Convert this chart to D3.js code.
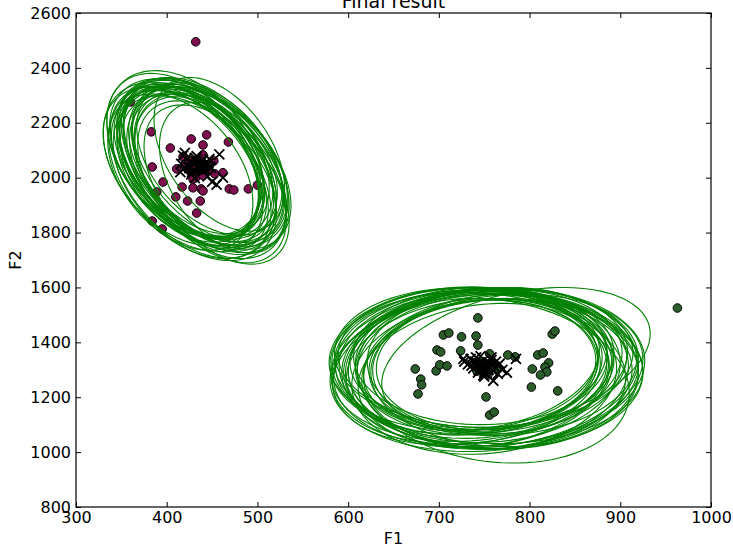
<!DOCTYPE html>
<html>
<head>
<meta charset="utf-8">
<script src="https://cdn.jsdelivr.net/npm/d3@7"></script>
<style>
  body { margin: 0; background: #fff; }
  svg { font-family: 'DejaVu Sans', sans-serif; }
</style>
</head>
<body>
<svg id="graph" width="733" height="548"></svg>
<script>
const GRAPH = d3.select('#graph');
const WIDTH = 733;
const HEIGHT = 548;
const MARGIN = { left: 76, right: 22, top: 13, bottom: 41 };

// DATA

const X_TICKS = [300, 400, 500, 600, 700, 800, 900, 1000];
const Y_TICKS = [800, 1000, 1200, 1400, 1600, 1800, 2000, 2200, 2400, 2600];

// cluster 1 samples (F1, F2)
const POINTS_1 = [
  [383, 2167], [427, 2141], [444, 2156], [440, 2119], [404, 2108], [468, 2130],
  [418, 2076], [440, 2083], [452, 2061], [384, 2039], [411, 2032], [462, 2018],
  [453, 2014], [396, 1984], [417, 1966], [429, 1963], [438, 1959], [440, 1952],
  [389, 1948], [469, 1959], [474, 1955], [490, 1959], [500, 1973], [410, 1930],
  [423, 1915], [437, 1915], [433, 1871], [432, 2495], [360, 2276], [384, 1842],
  [395, 1813], [425, 2030], [430, 2045], [435, 2020], [438, 2055], [428, 2010],
  [442, 2035], [432, 2000], [436, 2070], [445, 2025], [420, 2050], [427, 2060],
  [433, 2038], [440, 2008], [429, 1995]
];

// cluster 2 samples (F1, F2)
const POINTS_2 = [
  [743, 1489], [705, 1427], [711, 1434], [725, 1420], [741, 1423], [743, 1390],
  [756, 1358], [698, 1372], [702, 1365], [724, 1369], [674, 1303], [680, 1266],
  [681, 1245], [677, 1212], [697, 1296], [701, 1318], [709, 1314], [754, 1281],
  [752, 1201], [756, 1135], [761, 1146], [740, 1325], [803, 1303], [802, 1237],
  [809, 1354], [815, 1361], [821, 1325], [817, 1310], [819, 1292], [812, 1281],
  [825, 1430], [828, 1441], [831, 1223], [784, 1347], [776, 1354], [963, 1525],
  [745, 1310], [750, 1300], [755, 1320], [742, 1295], [760, 1315], [748, 1330],
  [752, 1290], [738, 1318], [765, 1305], [746, 1322]
];

// sampled gaussians: [meanF1, meanF2, extentF1, extentF2, correlation]
const GAUSS_1 = [
  [433, 2040, 88, 295, -0.42], [428, 2055, 80, 280, -0.38], [440, 2025, 92, 305, -0.45],
  [422, 2070, 85, 290, -0.40], [445, 2005, 86, 300, -0.44], [430, 2048, 74, 262, -0.36],
  [436, 2032, 84, 300, -0.48], [432, 2060, 90, 285, -0.40], [450, 1985, 82, 295, -0.46],
  [418, 2080, 84, 300, -0.42], [438, 2045, 80, 278, -0.45], [428, 2020, 92, 315, -0.40],
  [446, 2052, 84, 288, -0.47], [425, 2035, 76, 270, -0.36], [440, 2065, 88, 300, -0.43],
  [455, 1975, 80, 290, -0.48], [420, 2090, 86, 300, -0.38], [434, 2040, 70, 255, -0.34],
  [441, 2045, 94, 318, -0.46], [430, 2028, 82, 292, -0.50], [416, 2050, 86, 298, -0.38],
  [448, 2040, 86, 292, -0.42], [433, 2078, 80, 282, -0.40], [427, 2012, 88, 305, -0.45],
  [443, 2028, 78, 276, -0.40], [437, 2055, 92, 300, -0.44], [424, 2042, 86, 290, -0.46],
  [447, 2068, 80, 278, -0.42], [431, 1998, 90, 300, -0.43], [439, 2034, 94, 294, -0.36],
  [426, 2060, 76, 280, -0.48], [462, 2000, 70, 275, -0.42], [418, 2030, 88, 300, -0.44],
  [436, 2046, 72, 266, -0.38], [449, 2035, 88, 296, -0.46], [431, 2072, 86, 290, -0.42],
  [415, 2020, 80, 285, -0.40], [458, 2085, 72, 280, -0.45]
];

const GAUSS_2 = [
  [750, 1310, 150, 275, 0.05], [745, 1320, 135, 255, 0.10], [755, 1300, 165, 290, -0.05],
  [740, 1330, 145, 265, 0.15], [760, 1295, 160, 285, 0.00], [748, 1315, 125, 240, 0.08],
  [752, 1305, 168, 290, 0.12], [735, 1340, 150, 258, -0.08], [765, 1285, 148, 272, 0.06],
  [742, 1312, 160, 282, 0.18], [756, 1325, 135, 260, -0.02], [750, 1290, 170, 288, 0.10],
  [728, 1330, 148, 268, 0.04], [770, 1300, 155, 276, 0.14], [746, 1350, 140, 250, 0.00],
  [785, 1340, 148, 260, 0.35], [760, 1260, 150, 300, -0.15], [738, 1305, 155, 280, 0.20],
  [753, 1318, 122, 236, 0.06], [744, 1298, 162, 284, -0.10], [758, 1335, 150, 265, 0.12],
  [732, 1320, 146, 270, 0.02], [762, 1310, 165, 286, 0.08], [749, 1280, 138, 262, 0.16],
  [741, 1345, 152, 255, -0.04], [767, 1322, 140, 256, 0.10], [751, 1302, 158, 292, 0.04],
  [736, 1315, 155, 276, 0.12], [775, 1290, 150, 270, 0.00], [747, 1328, 130, 246, 0.18],
  [755, 1312, 170, 281, -0.06], [743, 1290, 145, 270, 0.09], [727, 1340, 148, 262, 0.05],
  [758, 1345, 156, 255, 0.07], [750, 1275, 146, 283, 0.11], [763, 1330, 155, 270, 0.03]
];

// SCALES

const x = d3.scaleLinear().domain([300, 1000]).range([MARGIN.left, WIDTH - MARGIN.right]);
const y = d3.scaleLinear().domain([800, 2600]).range([HEIGHT - MARGIN.bottom, MARGIN.top]);

const plot = GRAPH.append('g');

plot.append('clipPath').attr('id', 'clip')
  .append('rect')
  .attr('x', x(300)).attr('y', y(2600))
  .attr('width', x(1000) - x(300)).attr('height', y(800) - y(2600));

const inner = plot.append('g').attr('clip-path', 'url(#clip)');

// FUNCTIONS

function ellipsePath(g) {
  const [mx, my, sx, sy, rho] = g;
  const steps = d3.range(0, 101).map(i => i / 100 * 2 * Math.PI);
  const s = Math.sqrt(1 - rho * rho);
  return d3.line()
    .x(t => x(mx + sx * Math.cos(t)))
    .y(t => y(my + sy * (rho * Math.cos(t) + s * Math.sin(t))))(steps);
}

function drawPoints(data, fill) {
  inner.append('g').selectAll('circle')
    .data(data)
    .join('circle')
    .attr('cx', d => x(d[0]))
    .attr('cy', d => y(d[1]))
    .attr('r', 4.3)
    .attr('fill', fill)
    .attr('stroke', '#000')
    .attr('stroke-width', 1);
}

function drawEllipses(data) {
  inner.append('g').selectAll('path')
    .data(data)
    .join('path')
    .attr('d', ellipsePath)
    .attr('fill', 'none')
    .attr('stroke', '#008000')
    .attr('stroke-width', 1.1);
}

function drawMeans(data) {
  const size = 5;
  inner.append('g').selectAll('path')
    .data(data)
    .join('path')
    .attr('d', d => {
      const cx = x(d[0]), cy = y(d[1]);
      return `M${cx - size},${cy - size}L${cx + size},${cy + size}M${cx - size},${cy + size}L${cx + size},${cy - size}`;
    })
    .attr('stroke', '#000')
    .attr('stroke-width', 1.8)
    .attr('fill', 'none');
}

drawPoints(POINTS_1, '#800f4f');
drawPoints(POINTS_2, '#2b5d2b');
drawEllipses(GAUSS_1);
drawEllipses(GAUSS_2);
drawMeans(GAUSS_1);
drawMeans(GAUSS_2);

// AXES

function styleAxis(sel) {
  sel.select('.domain').remove();
  sel.selectAll('line').attr('stroke', '#000').attr('stroke-width', 1);
  sel.selectAll('text').attr('fill', '#000').style('font-size', '16px').style('font-family', 'DejaVu Sans');
}

plot.append('g')
  .attr('transform', `translate(0,${y(800)})`)
  .call(d3.axisBottom(x).tickValues(X_TICKS).tickSize(-5).tickPadding(5).tickFormat(d3.format('d')))
  .call(styleAxis);

plot.append('g')
  .attr('transform', `translate(0,${y(2600)})`)
  .call(d3.axisTop(x).tickValues(X_TICKS).tickSize(-5).tickFormat(''))
  .call(styleAxis);

plot.append('g')
  .attr('transform', `translate(${x(300)},0)`)
  .call(d3.axisLeft(y).tickValues(Y_TICKS).tickSize(-5).tickPadding(5).tickFormat(d3.format('d')))
  .call(styleAxis);

plot.append('g')
  .attr('transform', `translate(${x(1000)},0)`)
  .call(d3.axisRight(y).tickValues(Y_TICKS).tickSize(-5).tickFormat(''))
  .call(styleAxis);

plot.append('rect')
  .attr('x', x(300)).attr('y', y(2600))
  .attr('width', x(1000) - x(300)).attr('height', y(800) - y(2600))
  .attr('fill', 'none')
  .attr('stroke', '#000')
  .attr('stroke-width', 1.2);

// LABELS

GRAPH.append('text')
  .attr('x', (x(300) + x(1000)) / 2)
  .attr('y', 8)
  .attr('text-anchor', 'middle')
  .style('font-size', '19px')
  .text('Final result');

GRAPH.append('text')
  .attr('x', (x(300) + x(1000)) / 2)
  .attr('y', 544)
  .attr('text-anchor', 'middle')
  .style('font-size', '16px')
  .text('F1');

GRAPH.append('text')
  .attr('transform', `translate(21,${(y(800) + y(2600)) / 2}) rotate(-90)`)
  .attr('text-anchor', 'middle')
  .style('font-size', '16px')
  .text('F2');
</script>
</body>
</html>
